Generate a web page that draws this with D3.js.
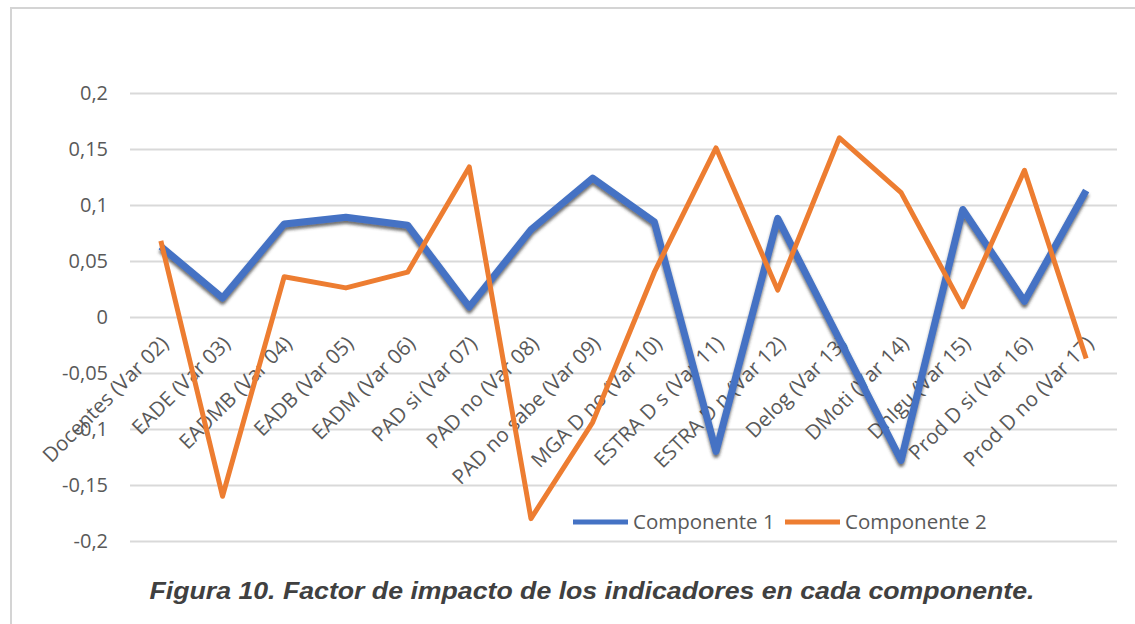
<!DOCTYPE html>
<html>
<head>
<meta charset="utf-8">
<script src="https://cdn.jsdelivr.net/npm/d3@7"></script>
<style>
  body { margin: 0; background: #fff; }
  text { font-family: "Open Sans", sans-serif; }
</style>
</head>
<body>
<div id="chart"></div>
<script>
// categories and values
var categories = ["Docentes (Var 02)", "EADE (Var 03)", "EADMB (Var 04)", "EADB (Var 05)",
  "EADM (Var 06)", "PAD si (Var 07)", "PAD no (Var 08)", "PAD no sabe (Var 09)",
  "MGA D no (Var 10)", "ESTRA D s (Var 11)", "ESTRA D n (Var 12)", "Delog (Var 13)",
  "DMoti (Var 14)", "DnIgu (Var 15)", "Prod D si (Var 16)", "Prod D no (Var 17)"];
var componente1 = [0.063, 0.017, 0.083, 0.089, 0.082, 0.009, 0.078, 0.124,
  0.085, -0.12, 0.088, -0.02, -0.128, 0.096, 0.014, 0.113];
var componente2 = [0.068, -0.16, 0.036, 0.026, 0.040, 0.134, -0.18, -0.094,
  0.040, 0.151, 0.024, 0.16, 0.111, 0.009, 0.131, -0.037];
var yTicks = [-0.2, -0.15, -0.1, -0.05, 0, 0.05, 0.1, 0.15, 0.2];
var seriesNames = ["Componente 1", "Componente 2"];
var caption = "Figura 10. Factor de impacto de los indicadores en cada componente.";

var W = 1135, H = 624;
var margin = {top: 93, right: 18, bottom: 83, left: 130},
    width = W - margin.left - margin.right,
    height = H - margin.top - margin.bottom;

var svg = d3.select("#chart").append("svg")
    .attr("width", W)
    .attr("height", H);

// shadow under the blue line
var defs = svg.append("defs");
defs.append("filter").attr("id", "shadow")
    .attr("x", "-5%").attr("y", "-20%").attr("width", "110%").attr("height", "140%")
  .append("feDropShadow")
    .attr("dx", 0).attr("dy", 3).attr("stdDeviation", 1.5)
    .attr("flood-color", "#333").attr("flood-opacity", 0.7);

// frame (left and top edges visible)
svg.append("path")
    .attr("d", "M11," + H + "V8H" + W)
    .attr("fill", "none")
    .attr("stroke", "#d4d4d4")
    .attr("stroke-width", 2);

var g = svg.append("g")
    .attr("transform", "translate(" + margin.left + "," + margin.top + ")");

var x = d3.scalePoint()
    .domain(categories)
    .range([0, width])
    .padding(0.5);

var y = d3.scaleLinear()
    .domain([-0.2, 0.2])
    .range([height, 0]);

var fmt = function(d) { return String(+d.toFixed(2)).replace(".", ","); };

// gridlines + y labels
var yAxis = g.append("g")
    .call(d3.axisLeft(y).tickValues(yTicks).tickSize(-width).tickFormat(fmt).tickPadding(22));
yAxis.select(".domain").remove();
yAxis.selectAll(".tick line").attr("stroke", "#d9d9d9").attr("stroke-width", 2);
yAxis.selectAll(".tick text")
    .attr("fill", "#595959")
    .style("font-size", "20px")
    .style("font-family", "Open Sans, sans-serif");

// category labels, rotated
g.append("g").selectAll("text")
  .data(categories)
  .enter().append("text")
    .attr("transform", function(d) {
      return "translate(" + (x(d) + 9) + "," + (y(0) + 28) + ") rotate(-45)";
    })
    .attr("text-anchor", "end")
    .attr("fill", "#595959")
    .style("font-size", "20.5px")
    .text(function(d) { return d; });

var line = d3.line()
    .x(function(d, i) { return x(categories[i]); })
    .y(function(d) { return y(d); });

g.append("path")
    .datum(componente1)
    .attr("d", line)
    .attr("fill", "none")
    .attr("stroke", "#4472C4")
    .attr("stroke-width", 7)
    .attr("stroke-linejoin", "round")
    .attr("filter", "url(#shadow)");

g.append("path")
    .datum(componente2)
    .attr("d", line)
    .attr("fill", "none")
    .attr("stroke", "#ED7D31")
    .attr("stroke-width", 5)
    .attr("stroke-linejoin", "round");

// legend
var legendColors = ["#4472C4", "#ED7D31"];
var legend = svg.append("g").attr("transform", "translate(573,522)");
var lg = legend.selectAll("g")
  .data(seriesNames)
  .enter().append("g")
    .attr("transform", function(d, i) { return "translate(" + (i * 212) + ",0)"; });
lg.append("line")
    .attr("x1", 0).attr("x2", 55)
    .attr("stroke", function(d, i) { return legendColors[i]; })
    .attr("stroke-width", 5);
lg.append("text")
    .attr("x", 60)
    .attr("dy", "0.35em")
    .attr("fill", "#595959")
    .style("font-size", "20.5px")
    .text(function(d) { return d; });

// caption
svg.append("text")
    .attr("x", 592)
    .attr("y", 599)
    .attr("text-anchor", "middle")
    .attr("fill", "#404040")
    .attr("textLength", 885)
    .attr("lengthAdjust", "spacingAndGlyphs")
    .style("font-family", "Liberation Sans, Arial, sans-serif")
    .style("font-weight", "bold")
    .style("font-style", "italic")
    .style("font-size", "24px")
    .text(caption);
</script>
</body>
</html>
